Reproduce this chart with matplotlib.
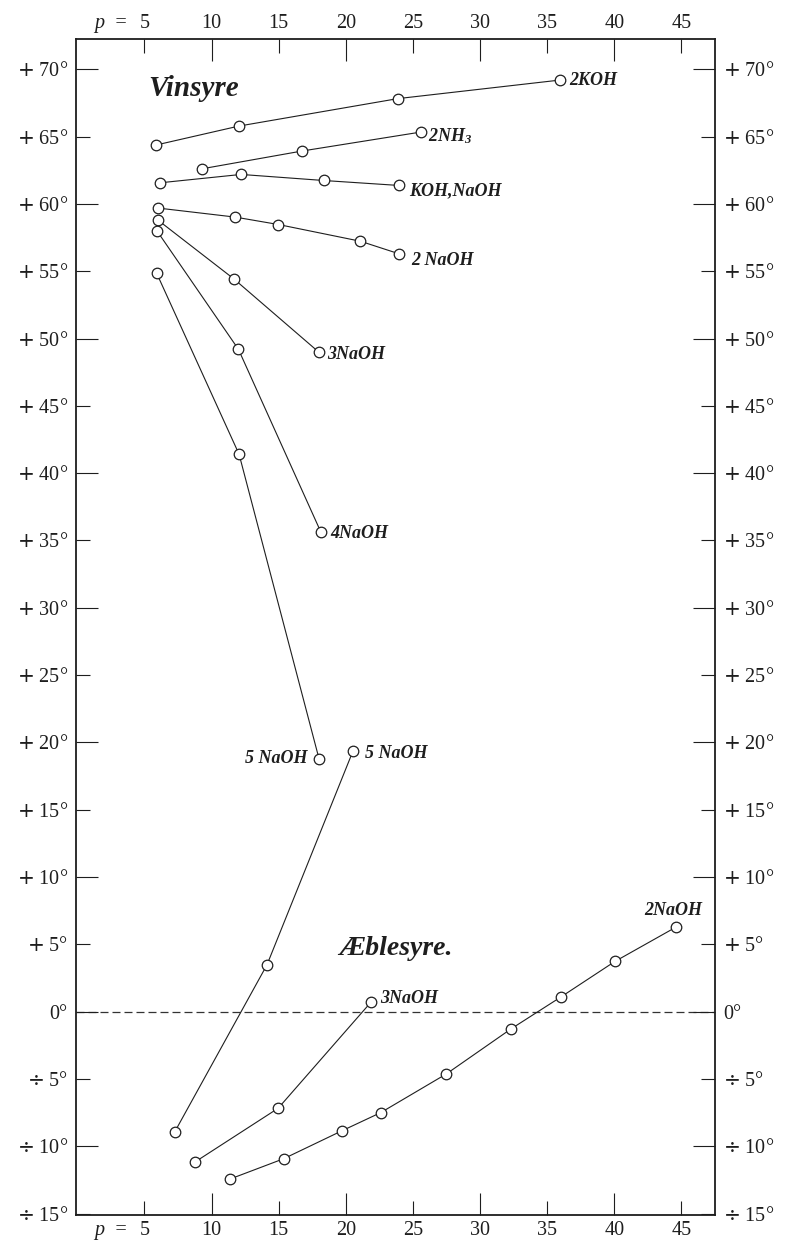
import matplotlib
matplotlib.use('Agg')
import matplotlib.pyplot as plt
from matplotlib.ticker import FixedLocator, FixedFormatter

plt.rcParams['font.family'] = ['Liberation Serif', 'DejaVu Serif']
plt.rcParams['mathtext.fontset'] = 'custom'
plt.rcParams['mathtext.rm'] = 'Liberation Serif:bold:italic'
plt.rcParams['mathtext.it'] = 'Liberation Serif:italic'
plt.rcParams['mathtext.bf'] = 'Liberation Serif:bold'
plt.rcParams['mathtext.sf'] = 'DejaVu Serif'

# ---------------- data ----------------
# Vinsyre (tartaric acid)
v_2koh_x = [5.84, 12.02, 23.86, 35.95]
v_2koh_y = [64.37, 65.78, 67.82, 69.2]
v_2nh3_x = [9.29, 16.74, 25.6]
v_2nh3_y = [62.61, 63.93, 65.34]
v_kohnaoh_x = [6.17, 12.2, 18.35, 23.98]
v_kohnaoh_y = [61.57, 62.19, 61.74, 61.37]
v_2naoh_x = [6.04, 11.77, 14.98, 21.08, 23.98]
v_2naoh_y = [59.69, 59.02, 58.47, 57.23, 56.29]
v_3naoh_x = [6.04, 11.66, 18.0]
v_3naoh_y = [58.77, 54.43, 48.98]
v_4naoh_x = [5.95, 12.0, 18.13]
v_4naoh_y = [57.97, 49.2, 35.65]
v_5naoh_x = [5.9, 12.05, 18.0]
v_5naoh_y = [54.87, 41.4, 18.8]

# Æblesyre (malic acid)
a_5naoh_x = [7.27, 14.13, 20.52]
a_5naoh_y = [-8.9, 3.49, 19.33]
a_3naoh_x = [8.8, 14.96, 21.9]
a_3naoh_y = [-11.14, -7.17, 0.74]
a_2naoh_x = [11.37, 15.37, 19.7, 22.61, 27.49, 32.3, 36.03, 40.04, 44.57]
a_2naoh_y = [-12.43, -10.92, -8.85, -7.49, -4.62, -1.28, 1.1, 3.73, 6.27]

series_labels = ['2KOH', '2NH$_3$', 'KOH,NaOH', '2 NaOH', '3NaOH', '4NaOH',
                 '5 NaOH', '5 NaOH', '3NaOH', '2NaOH']

x_major = [10, 20, 30, 40]
x_major_labels = ['10', '20', '30', '40']
x_minor = [5, 15, 25, 35, 45]
x_minor_labels = ['5', '15', '25', '35', '45']

PLUS = r'$\mathsf{+}$'
DIV = r'$\mathsf{÷}$'
y_major = [-10, 0, 10, 20, 30, 40, 50, 60, 70]
y_major_labels = [DIV + ' 10°', '0°', PLUS + ' 10°', PLUS + ' 20°', PLUS + ' 30°',
                  PLUS + ' 40°', PLUS + ' 50°', PLUS + ' 60°', PLUS + ' 70°']
y_minor = [-15, -5, 5, 15, 25, 35, 45, 55, 65]
y_minor_labels = [DIV + ' 15°', DIV + ' 5°', PLUS + ' 5°', PLUS + ' 15°', PLUS + ' 25°',
                  PLUS + ' 35°', PLUS + ' 45°', PLUS + ' 55°', PLUS + ' 65°']

# ---------------- figure ----------------
W, H = 787, 1242
fig = plt.figure(figsize=(W / 100, H / 100), dpi=100)
fig.patch.set_facecolor('white')
ax = fig.add_axes([76 / W, 1 - 1215 / H, 639 / W, 1176 / H])
ax.set_xlim(-0.1, 47.5)
ax.set_ylim(-15.1, 72.25)

ink = '#1e1e1e'
style = dict(color=ink, lw=0.8, marker='o', ms=7.6, mfc='white', mec=ink, mew=0.9)

series = [
    (v_2koh_x, v_2koh_y), (v_2nh3_x, v_2nh3_y), (v_kohnaoh_x, v_kohnaoh_y),
    (v_2naoh_x, v_2naoh_y), (v_3naoh_x, v_3naoh_y), (v_4naoh_x, v_4naoh_y),
    (v_5naoh_x, v_5naoh_y), (a_5naoh_x, a_5naoh_y), (a_3naoh_x, a_3naoh_y),
    (a_2naoh_x, a_2naoh_y),
]
for xs, ys in series:
    ax.plot(xs, ys, **style, zorder=3)

# label offsets (points) and alignment for each series end
label_pos = [
    (7, 0, 'left'), (5, -3, 'left'), (7, -3.5, 'left'), (8.5, -5, 'left'),
    (6, -1.5, 'left'), (7, -1.5, 'left'), (-8.5, 0, 'right'),
    (8.5, -1.5, 'left'), (6, 2, 'left'), (-2, 12, 'center'),
]
lab_font = dict(fontsize=13, fontweight='bold', fontstyle='italic', color=ink)
for (xs, ys), lab, (dx, dy, ha) in zip(series, series_labels, label_pos):
    ax.annotate(lab, xy=(xs[-1], ys[-1]), xytext=(dx, dy), textcoords='offset points',
                ha=ha, va='center', **lab_font)

# zero line
ax.axhline(0, color='#333333', lw=0.9, ls=(0, (6.4, 3.2)), zorder=1)

# titles
ax.text(5.3, 68.6, 'Vinsyre', fontsize=21, fontweight='bold', fontstyle='italic',
        ha='left', va='center', color=ink)
ax.text(19.5, 4.7, 'Æblesyre.', fontsize=20, fontweight='bold', fontstyle='italic',
        ha='left', va='center', color=ink)

# ticks
ax.xaxis.set_major_locator(FixedLocator(x_major))
ax.xaxis.set_major_formatter(FixedFormatter(x_major_labels))
ax.xaxis.set_minor_locator(FixedLocator(x_minor))
ax.xaxis.set_minor_formatter(FixedFormatter(x_minor_labels))
ax.yaxis.set_major_locator(FixedLocator(y_major))
ax.yaxis.set_major_formatter(FixedFormatter(y_major_labels))
ax.yaxis.set_minor_locator(FixedLocator(y_minor))
ax.yaxis.set_minor_formatter(FixedFormatter(y_minor_labels))

ax.tick_params(axis='both', which='both', direction='in', top=True, right=True,
               labeltop=True, labelright=True, width=0.8, color=ink,
               labelsize=14.5, labelcolor=ink)
ax.tick_params(which='major', length=16)
ax.tick_params(which='minor', length=10)
ax.tick_params(axis='x', which='both', pad=4)
ax.tick_params(axis='y', which='both', pad=6)

for sp in ax.spines.values():
    sp.set_linewidth(1.3)
    sp.set_color(ink)

# "p =" prefix before the first x tick label (top and bottom)
ax.annotate('p  =', xy=(5, 0), xycoords=('data', 'axes fraction'),
            xytext=(-12, -4), textcoords='offset points', ha='right', va='top',
            fontsize=14.5, fontstyle='italic', color=ink)
ax.annotate('p  =', xy=(5, 1), xycoords=('data', 'axes fraction'),
            xytext=(-12, 4), textcoords='offset points', ha='right', va='bottom',
            fontsize=14.5, fontstyle='italic', color=ink)

fig.savefig('out.png', dpi=100, facecolor='white')
